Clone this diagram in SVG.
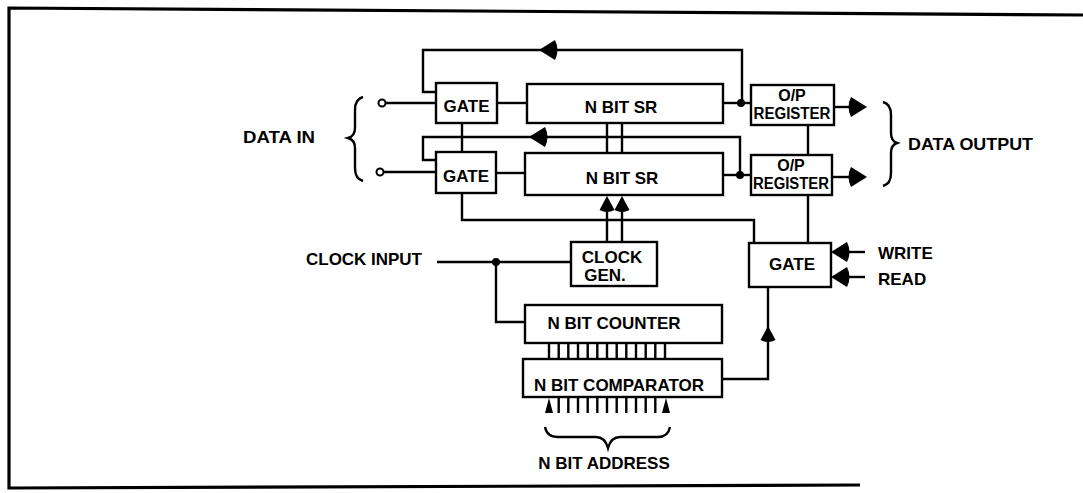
<svg xmlns="http://www.w3.org/2000/svg" width="1083" height="493" viewBox="0 0 1083 493">
<style>
  .box { fill: #fff; stroke: #000; stroke-width: 2.4; }
  .ln { fill: none; stroke: #000; stroke-width: 2.4; }
  .frame { fill: none; stroke: #000; stroke-width: 3.2; }
  .t { font-family: "Liberation Sans", Arial, sans-serif; font-weight: bold; font-size: 17px; fill: #000; }
  .tm { text-anchor: middle; }
  .ts { font-size: 16px; }
  .ah { fill: #000; }
</style>
<defs>
  <path id="arrowL" d="M0,0 L16,-10 Q21,0 16,10 Z"/>
  <path id="arrowR" d="M0,0 L-16,-10 Q-21,0 -16,10 Z"/>
  <path id="arrowU" d="M0,0 L-7.5,14 Q0,18 7.5,14 Z"/>
  <path id="arrowUs" d="M0,0 L-4,15 L4,15 Z"/>
</defs>

<path class="frame" d="M1083,15 L9,8 L9,488 L860,485"/>

<g id="connectors">
  <!-- feedback loops -->
  <polyline class="ln" points="742,103 742,50 423,50 423,92 436,92"/>
  <use href="#arrowL" class="ah" x="539" y="50"/>
  <polyline class="ln" points="740,175 740,137 423,137 423,160 436,160"/>
  <use href="#arrowL" class="ah" x="529" y="137"/>
  <!-- data in -->
  <circle cx="382" cy="103" r="3.5" fill="#fff" stroke="#000" stroke-width="2"/>
  <line class="ln" x1="385.5" y1="103" x2="436" y2="103"/>
  <circle cx="380" cy="172" r="3.5" fill="#fff" stroke="#000" stroke-width="2"/>
  <line class="ln" x1="383.5" y1="172" x2="436" y2="172"/>
  <!-- gate to SR -->
  <line class="ln" x1="497" y1="103" x2="527" y2="103"/>
  <line class="ln" x1="496" y1="173" x2="525" y2="173"/>
  <!-- SR to register -->
  <line class="ln" x1="723" y1="103" x2="751" y2="103"/>
  <circle cx="741" cy="103" r="4" fill="#000"/>
  <line class="ln" x1="723" y1="175" x2="751" y2="175"/>
  <circle cx="740" cy="175" r="4" fill="#000"/>
  <!-- verticals -->
  <line class="ln" x1="462" y1="123" x2="462" y2="152"/>
  <line class="ln" x1="607" y1="123" x2="607" y2="153"/>
  <line class="ln" x1="622" y1="123" x2="622" y2="153"/>
  <line class="ln" x1="808" y1="125" x2="808" y2="155"/>
  <!-- outputs -->
  <line class="ln" x1="834" y1="107" x2="852" y2="107"/>
  <use href="#arrowR" class="ah" x="867" y="107"/>
  <line class="ln" x1="832" y1="177" x2="852" y2="177"/>
  <use href="#arrowR" class="ah" x="867" y="177"/>
  <!-- register to gate -->
  <line class="ln" x1="808" y1="195" x2="808" y2="243"/>
  <polyline class="ln" points="462,193 462,220 754,220 754,243"/>
  <!-- write / read -->
  <line class="ln" x1="846" y1="252" x2="865" y2="252"/>
  <use href="#arrowL" class="ah" x="831" y="252"/>
  <line class="ln" x1="846" y1="277" x2="865" y2="277"/>
  <use href="#arrowL" class="ah" x="831" y="277"/>
  <!-- gate bottom to comparator -->
  <polyline class="ln" points="768,287 768,379 722,379"/>
  <use href="#arrowU" class="ah" x="768" y="326"/>
  <!-- clock gen to SR -->
  <line class="ln" x1="607" y1="242" x2="607" y2="208"/>
  <line class="ln" x1="622" y1="242" x2="622" y2="208"/>
  <use href="#arrowU" class="ah" x="607" y="196"/>
  <use href="#arrowU" class="ah" x="622" y="196"/>
  <!-- clock input -->
  <line class="ln" x1="437" y1="262" x2="571" y2="262"/>
  <circle cx="496" cy="262" r="4" fill="#000"/>
  <polyline class="ln" points="496,262 496,322 525,322"/>
  <!-- counter to comparator bus -->
  <g class="ln" stroke-width="2">
    <line x1="549" y1="343" x2="549" y2="359"/>
    <line x1="558.7" y1="343" x2="558.7" y2="359"/>
    <line x1="568.3" y1="343" x2="568.3" y2="359"/>
    <line x1="578" y1="343" x2="578" y2="359"/>
    <line x1="587.7" y1="343" x2="587.7" y2="359"/>
    <line x1="597.3" y1="343" x2="597.3" y2="359"/>
    <line x1="607" y1="343" x2="607" y2="359"/>
    <line x1="616.7" y1="343" x2="616.7" y2="359"/>
    <line x1="626.3" y1="343" x2="626.3" y2="359"/>
    <line x1="636" y1="343" x2="636" y2="359"/>
    <line x1="645.7" y1="343" x2="645.7" y2="359"/>
    <line x1="655.3" y1="343" x2="655.3" y2="359"/>
    <line x1="665" y1="343" x2="665" y2="359"/>
  </g>
  <!-- address bus -->
  <g class="ln" stroke-width="2">
    <line x1="558.7" y1="398" x2="558.7" y2="413"/>
    <line x1="568.3" y1="398" x2="568.3" y2="413"/>
    <line x1="578" y1="398" x2="578" y2="413"/>
    <line x1="587.7" y1="398" x2="587.7" y2="413"/>
    <line x1="597.3" y1="398" x2="597.3" y2="413"/>
    <line x1="607" y1="398" x2="607" y2="413"/>
    <line x1="616.7" y1="398" x2="616.7" y2="413"/>
    <line x1="626.3" y1="398" x2="626.3" y2="413"/>
    <line x1="636" y1="398" x2="636" y2="413"/>
    <line x1="645.7" y1="398" x2="645.7" y2="413"/>
    <line x1="655.3" y1="398" x2="655.3" y2="413"/>
  </g>
  <use href="#arrowUs" class="ah" x="549" y="398"/>
  <use href="#arrowUs" class="ah" x="666" y="398"/>
</g>

<!-- braces -->
<path class="ln" stroke-width="2.8" d="M363,97 Q355,99 355,110 L355,128 Q355,136 348,138 Q355,140 355,148 L355,168 Q355,179 363,181"/>
<path class="ln" stroke-width="2.8" d="M883,102 Q891,104 891,115 L891,133 Q891,141 897,143 Q891,145 891,153 L891,173 Q891,184 883,186"/>
<path class="ln" stroke-width="2.8" d="M545,427 Q547,437 558,437 L596,437 Q605,437 608,448 Q611,437 620,437 L658,437 Q668,437 670,427"/>

<g id="gate1">
  <rect class="box" x="436" y="83" width="61" height="40"/>
  <text class="t tm" x="466.5" y="112">GATE</text>
</g>
<g id="gate2">
  <rect class="box" x="436" y="152" width="60" height="41"/>
  <text class="t tm" x="466" y="182">GATE</text>
</g>
<g id="sr1">
  <rect class="box" x="527" y="84" width="196" height="39"/>
  <text class="t tm" x="621" y="113">N BIT SR</text>
</g>
<g id="sr2">
  <rect class="box" x="525" y="153" width="198" height="42"/>
  <text class="t tm" x="622" y="184">N BIT SR</text>
</g>
<g id="reg1">
  <rect class="box" x="751" y="85" width="83" height="40"/>
  <text class="t tm ts" x="792" y="101">O/P</text>
  <text class="t tm ts" x="792" y="119" textLength="77" lengthAdjust="spacingAndGlyphs">REGISTER</text>
</g>
<g id="reg2">
  <rect class="box" x="751" y="155" width="81" height="40"/>
  <text class="t tm ts" x="791" y="171">O/P</text>
  <text class="t tm ts" x="791" y="189" textLength="76" lengthAdjust="spacingAndGlyphs">REGISTER</text>
</g>
<g id="gate3">
  <rect class="box" x="749" y="243" width="82" height="44"/>
  <text class="t tm" x="792" y="270">GATE</text>
</g>
<g id="clockgen">
  <rect class="box" x="571" y="242" width="86" height="44"/>
  <text class="t tm" x="612" y="263">CLOCK</text>
  <text class="t tm" x="605" y="281">GEN.</text>
</g>
<g id="counter">
  <rect class="box" x="525" y="305" width="197" height="38"/>
  <text class="t tm" x="614" y="329">N BIT COUNTER</text>
</g>
<g id="comparator">
  <rect class="box" x="523" y="359" width="199" height="38"/>
  <text class="t tm" x="619" y="391">N BIT COMPARATOR</text>
</g>

<g id="labels">
  <text class="t" x="243" y="143" textLength="72" lengthAdjust="spacingAndGlyphs">DATA IN</text>
  <text class="t" x="908" y="150" textLength="125" lengthAdjust="spacingAndGlyphs">DATA OUTPUT</text>
  <text class="t" x="306" y="265" textLength="116" lengthAdjust="spacingAndGlyphs">CLOCK INPUT</text>
  <text class="t" x="878" y="259">WRITE</text>
  <text class="t" x="878" y="285">READ</text>
  <text class="t tm" x="604" y="469">N BIT ADDRESS</text>
</g>
</svg>
